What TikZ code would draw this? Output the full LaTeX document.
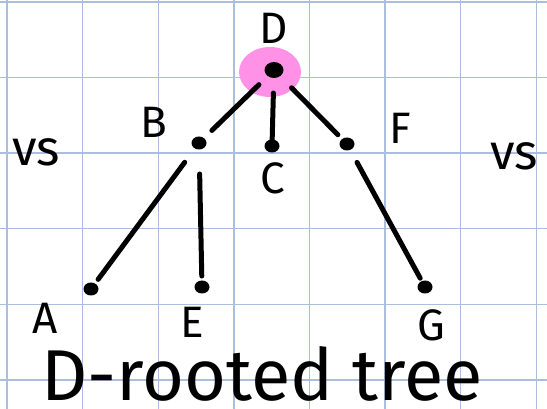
\documentclass[tikz,border=0pt]{standalone}
\usepackage{fontspec}
\setmainfont{Fira Sans}
\definecolor{gridblue}{RGB}{172,190,222}
\definecolor{hilite}{RGB}{255,145,230}
\tikzset{
  vertex/.style={ellipse,fill=black,inner sep=0pt,minimum width=15pt,minimum height=13pt},
  edge/.style={line width=5pt,line cap=round},
  lbl/.style={font=\fontsize{44}{44}\selectfont,inner sep=0pt},
  vslbl/.style={font=\fontsize{50}{50}\selectfont,inner sep=0pt},
}
\usetikzlibrary{shapes.geometric}
\begin{document}
\begin{tikzpicture}[x=1pt,y=-1pt]
  \useasboundingbox (0,0) rectangle (547,409);
  \fill[white] (0,0) rectangle (547,409);
  % graph paper
  \foreach \gx in {7,82.6,158.2,233.8,309.4,385,460.6,536.2}
    \draw[gridblue,line width=1.4pt] (\gx,0) -- (\gx,409);
  \foreach \gy in {2,77.6,153.2,228.8,304.4,380}
    \draw[gridblue,line width=1.4pt] (0,\gy) -- (547,\gy);
  % highlighted root
  \fill[hilite] (270,72) ellipse [x radius=31, y radius=25];
  % vertices
  \node[vertex,minimum width=19pt,minimum height=16pt] (D) at (274,70) {};
  \node[vertex] (B) at (199,143) {};
  \node[vertex] (C) at (272,146) {};
  \node[vertex] (F) at (347,144) {};
  \node[vertex] (A) at (91,289) {};
  \node[vertex] (E) at (202,287) {};
  \node[vertex] (G) at (425,287) {};
  % edges
  \draw[edge,shorten <=21pt,shorten >=18pt] (D.center) -- (B.center);
  \draw[edge,shorten <=23pt,shorten >=6pt] (D.center) -- (C.center);
  \draw[edge,shorten <=25pt,shorten >=13pt] (D.center) -- (F.center);
  \draw[edge,shorten <=24pt,shorten >=12pt] (B.center) -- (A.center);
  \draw[edge,shorten <=31pt,shorten >=11pt] (B.center) -- (E.center);
  \draw[edge,shorten <=21pt,shorten >=10pt] (F.center) -- (G.center);
  % labels
  \node[lbl] (lD) at (274,28) {D};
  \node[lbl] (lB) at (154,122) {B};
  \node[lbl] (lC) at (273,178) {C};
  \node[lbl] (lF) at (400,128) {F};
  \node[lbl] (lA) at (45,318) {A};
  \node[lbl] (lE) at (192,322) {E};
  \node[lbl] (lG) at (431,325) {G};
  \node[vslbl] (vsL) at (36,152) {vs};
  \node[vslbl] (vsR) at (514,156) {vs};
  \node[inner sep=0pt,anchor=base,text depth=0pt,font=\fontsize{72}{72}\selectfont] (title) at (262,400) {D-rooted tree};
\end{tikzpicture}
\end{document}
